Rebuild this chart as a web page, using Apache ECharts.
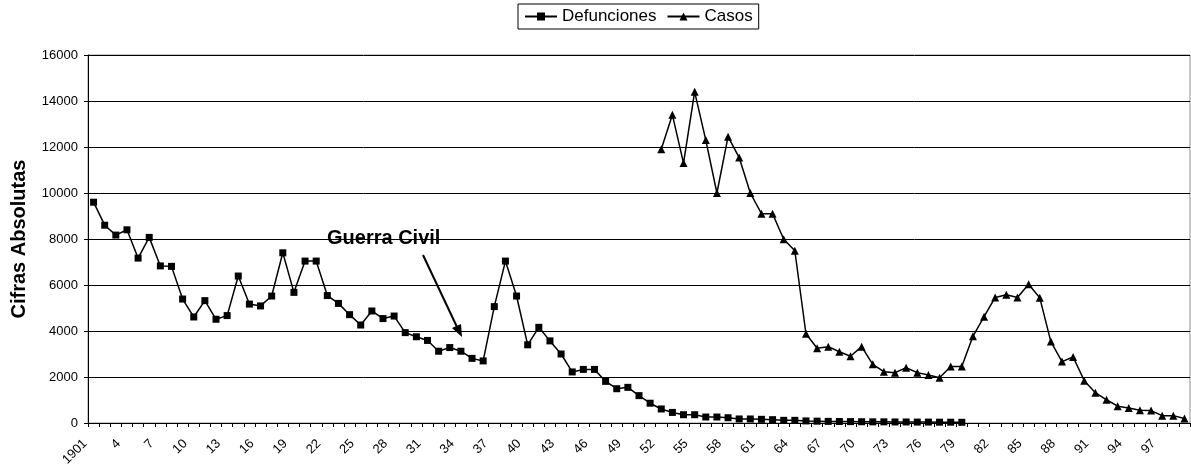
<!DOCTYPE html>
<html>
<head>
<meta charset="utf-8">
<script src="https://cdn.jsdelivr.net/npm/echarts@6/dist/echarts.min.js"></script>
<style>
html,body{margin:0;padding:0;background:#fff;}
#chart{width:1191px;height:468px;}
</style>
</head>
<body>
<div id="chart"></div>
<script>
// Years 1901..1999
const firstYear = 1901;
const lastYear = 1999;
const years = [];
for (let y = firstYear; y <= lastYear; y++) years.push(String(y));

// Defunciones 1901..1979
const defuncionesStart = 1901;
const defunciones = [
  9600, 8600, 8170, 8400, 7170, 8070, 6830, 6810, 5390, 4610,
  5320, 4510, 4670, 6390, 5170, 5090, 5520, 7400, 5680, 7040,
  7040, 5540, 5200, 4710, 4260, 4870, 4540, 4650, 3930, 3750,
  3590, 3120, 3280, 3120, 2810, 2700, 5060, 7040, 5520, 3400,
  4160, 3570, 3000, 2220, 2330, 2330, 1810, 1490, 1550, 1190,
  860, 610, 460, 360, 360, 260, 260, 230, 175, 175,
  160, 145, 116, 116, 90, 80, 70, 65, 60, 55,
  50, 50, 45, 45, 40, 40, 35, 35, 30
];

// Casos 1952..1999
const casosStart = 1952;
const casos = [
  11900, 13400, 11300, 14400, 12300, 10000, 12450, 11540, 10000, 9100,
  9100, 7990, 7490, 3880, 3250, 3320, 3100, 2900, 3320, 2550,
  2230, 2190, 2400, 2190, 2090, 1970, 2460, 2460, 3770, 4620,
  5460, 5580, 5460, 6030, 5450, 3540, 2670, 2870, 1840, 1320,
  1010, 730, 650, 550, 540, 320, 320, 200
];

const seriesNames = ['Defunciones', 'Casos'];
const yTitle = 'Cifras Absolutas';
const annotationText = 'Guerra Civil';

function alignSeries(values, start) {
  return years.map(y => {
    const idx = Number(y) - start;
    return (idx >= 0 && idx < values.length) ? values[idx] : null;
  });
}

const FONT = 'Liberation Sans, Arial, sans-serif';
const chart = echarts.init(document.getElementById('chart'), null, {renderer: 'canvas'});

chart.setOption({
  animation: false,
  backgroundColor: '#fff',
  textStyle: {fontFamily: FONT, color: '#000'},
  legend: {
    data: seriesNames,
    top: 4,
    left: 518,
    borderColor: '#000',
    borderWidth: 1,
    padding: [4, 6],
    itemGap: 10,
    itemWidth: 32,
    itemHeight: 10,
    textStyle: {fontSize: 17, color: '#000', fontFamily: FONT}
  },
  grid: {
    left: 88, right: 1, top: 55, bottom: 45,
    show: true, borderColor: '#909090', borderWidth: 1,
    containLabel: false,
    outerBoundsMode: 'none'
  },
  xAxis: {
    type: 'category',
    data: years,
    boundaryGap: true,
    axisLine: {lineStyle: {color: '#000', width: 1}},
    axisTick: {show: true, interval: 0, length: 4, lineStyle: {color: '#000'}},
    axisLabel: {
      interval: 2,
      rotate: 45,
      fontSize: 13,
      color: '#000',
      margin: 10,
      padding: [0, 12, 0, 0],
      fontFamily: FONT,
      formatter: (v, i) => i === 0 ? v : String(Number(v) % 100)
    },
    splitLine: {show: false}
  },
  yAxis: {
    type: 'value',
    min: 0, max: 16000, interval: 2000,
    name: yTitle,
    nameLocation: 'middle',
    nameGap: 59,
    nameRotate: 90,
    nameTextStyle: {fontSize: 20, fontWeight: 'bold', color: '#000', fontFamily: FONT},
    axisLine: {show: true, lineStyle: {color: '#000', width: 1}},
    axisTick: {show: true, length: 4, lineStyle: {color: '#000'}},
    axisLabel: {fontSize: 13, color: '#000', margin: 10, fontFamily: FONT,
      formatter: v => String(v)},
    splitLine: {show: true, lineStyle: {color: '#000', width: 1}}
  },
  series: [
    {
      name: seriesNames[0],
      type: 'line',
      data: alignSeries(defunciones, defuncionesStart),
      symbol: 'rect',
      symbolSize: 7,
      showSymbol: true,
      showAllSymbol: true,
      connectNulls: false,
      lineStyle: {color: '#000', width: 1.5},
      itemStyle: {color: '#000', borderWidth: 0}
    },
    {
      name: seriesNames[1],
      type: 'line',
      data: alignSeries(casos, casosStart),
      symbol: 'triangle',
      symbolSize: 8,
      showSymbol: true,
      showAllSymbol: true,
      connectNulls: false,
      lineStyle: {color: '#000', width: 1.5},
      itemStyle: {color: '#000', borderWidth: 0}
    }
  ],
  graphic: [
    {
      type: 'text',
      left: 327,
      top: 228,
      z: 100,
      style: {
        text: annotationText,
        fill: '#000',
        font: 'bold 20px ' + FONT
      }
    },
    {
      type: 'line',
      z: 100,
      shape: {x1: 423, y1: 255, x2: 457, y2: 327},
      style: {stroke: '#000', lineWidth: 2}
    },
    {
      type: 'polygon',
      z: 100,
      shape: {points: [[462, 337], [452, 328], [461, 324]]},
      style: {fill: '#000'}
    }
  ]
});
</script>
</body>
</html>
